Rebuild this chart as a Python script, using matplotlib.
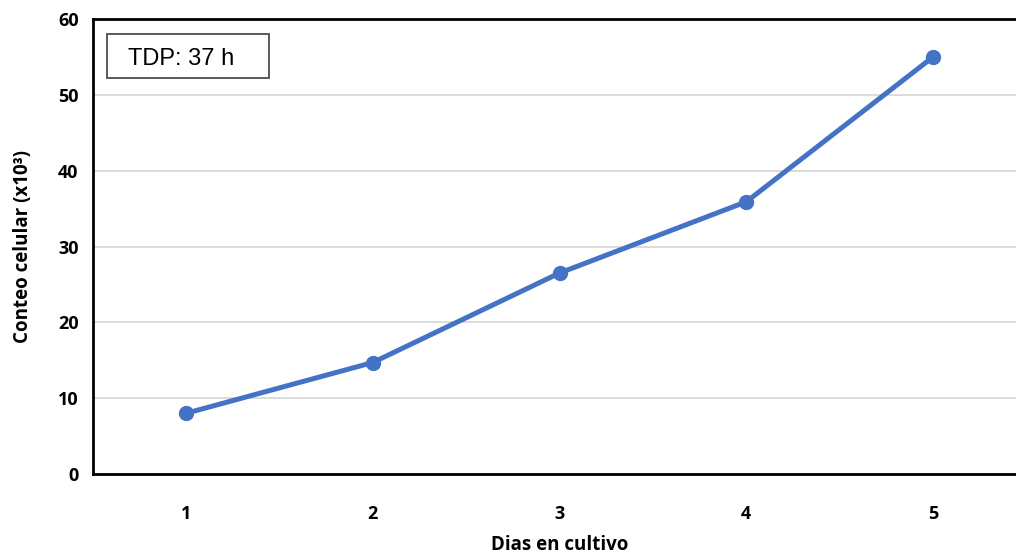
import matplotlib
matplotlib.use('Agg')
import matplotlib.pyplot as plt
from matplotlib.patches import Rectangle

# datos
dias = [1, 2, 3, 4, 5]
conteo = [8.0, 14.7, 26.5, 35.9, 55.0]
y_ticks = [0, 10, 20, 30, 40, 50, 60]

plt.rcParams['font.family'] = ['Open Sans', 'DejaVu Sans']

fig = plt.figure(figsize=(10.16, 5.54), dpi=100)
# el eje derecho queda fuera de la imagen, como en el original
ax = fig.add_axes([92.5 / 1016, 1 - 474 / 554, (1026.5 - 92.5) / 1016, (474 - 19) / 554])

ax.plot(dias, conteo, color='#4472C4', lw=3.6, marker='o', ms=10,
        solid_capstyle='round', zorder=3)

ax.set_xlim(0.5, 5.5)
ax.set_ylim(0, 60)
ax.set_xticks(dias)
ax.set_yticks(y_ticks)
ax.yaxis.grid(True, color='#D9D9D9', lw=1.3)
ax.set_axisbelow(True)

for s in ['left', 'top', 'bottom']:
    ax.spines[s].set_linewidth(2)
    ax.spines[s].set_color('black')
ax.spines['right'].set_visible(False)

ax.tick_params(axis='both', length=0, labelsize=13)
ax.tick_params(axis='x', pad=22)
ax.tick_params(axis='y', pad=10)
for lab in ax.get_xticklabels() + ax.get_yticklabels():
    lab.set_fontweight('bold')

ax.set_xlabel('Dias en cultivo', fontsize=13.5, fontweight='bold', labelpad=9)
ax.set_ylabel('Conteo celular (x10³)', fontsize=13.5, fontweight='bold', labelpad=18)

# cuadro TDP
ax.add_patch(Rectangle((0.0155, 0.870), 0.1734, 0.0967, transform=ax.transAxes,
                       fc='white', ec='#404040', lw=1.2, zorder=4))
ax.text(0.038, 0.912, 'TDP: 37 h', transform=ax.transAxes, fontsize=17,
        family='Liberation Sans', va='center', ha='left', zorder=5)

fig.savefig('out.png', dpi=100)
